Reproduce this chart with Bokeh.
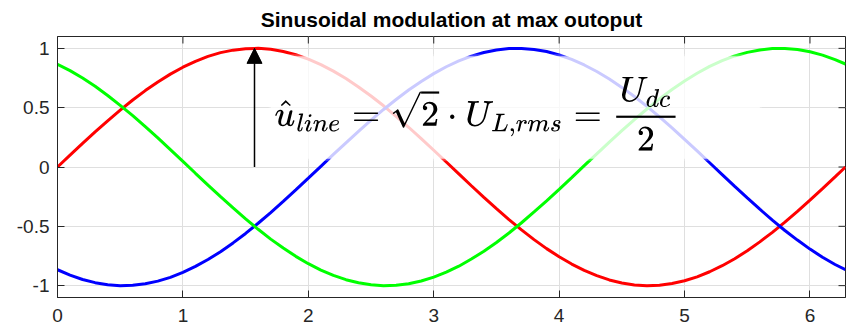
from bokeh.plotting import figure
from bokeh.models import (Range1d, FixedTicker, Label, Arrow,
                          NormalHead, TeX, ColumnDataSource)
from bokeh.embed import file_html
from bokeh.resources import INLINE

# angle (rad) and the three phase voltages, normalised to the peak
angle = [0.0, 0.1, 0.2, 0.3, 0.4, 0.5, 0.6, 0.7, 0.8, 0.9, 1.0, 1.1, 1.2,
         1.3, 1.4, 1.5, 1.6, 1.7, 1.8, 1.9, 2.0, 2.1, 2.2, 2.3, 2.4, 2.5,
         2.6, 2.7, 2.8, 2.9, 3.0, 3.1, 3.2, 3.3, 3.4, 3.5, 3.6, 3.7, 3.8,
         3.9, 4.0, 4.1, 4.2, 4.3, 4.4, 4.5, 4.6, 4.7, 4.8, 4.9, 5.0, 5.1,
         5.2, 5.3, 5.4, 5.5, 5.6, 5.7, 5.8, 5.9, 6.0, 6.1, 6.2, 6.283]
phase_u = [0.000, 0.100, 0.199, 0.296, 0.389, 0.479, 0.565, 0.644, 0.717,
           0.783, 0.841, 0.891, 0.932, 0.964, 0.985, 0.997, 1.000, 0.992,
           0.974, 0.946, 0.909, 0.863, 0.808, 0.746, 0.675, 0.598, 0.516,
           0.427, 0.335, 0.239, 0.141, 0.042, -0.058, -0.158, -0.256, -0.351,
           -0.443, -0.530, -0.612, -0.688, -0.757, -0.818, -0.872, -0.916,
           -0.952, -0.978, -0.994, -1.000, -0.996, -0.982, -0.959, -0.926,
           -0.883, -0.832, -0.773, -0.706, -0.631, -0.551, -0.465, -0.374,
           -0.279, -0.182, -0.083, 0.000]
phase_v = [-0.866, -0.912, -0.948, -0.975, -0.992, -1.000, -0.997, -0.984,
           -0.962, -0.930, -0.888, -0.838, -0.780, -0.714, -0.640, -0.560,
           -0.474, -0.384, -0.290, -0.193, -0.094, 0.006, 0.106, 0.204, 0.301,
           0.395, 0.485, 0.569, 0.649, 0.721, 0.787, 0.845, 0.894, 0.934,
           0.965, 0.986, 0.998, 0.999, 0.991, 0.973, 0.944, 0.907, 0.860,
           0.805, 0.742, 0.671, 0.594, 0.511, 0.422, 0.330, 0.233, 0.136,
           0.036, -0.064, -0.164, -0.261, -0.356, -0.448, -0.535, -0.616,
           -0.692, -0.761, -0.822, -0.865]
phase_w = [0.866, 0.812, 0.750, 0.680, 0.603, 0.520, 0.433, 0.340, 0.245,
           0.147, 0.048, -0.053, -0.152, -0.250, -0.345, -0.438, -0.525,
           -0.608, -0.683, -0.753, -0.815, -0.869, -0.914, -0.950, -0.976,
           -0.993, -1.000, -0.997, -0.984, -0.961, -0.928, -0.886, -0.836,
           -0.776, -0.710, -0.636, -0.556, -0.470, -0.379, -0.285, -0.188,
           -0.089, 0.011, 0.111, 0.210, 0.306, 0.400, 0.489, 0.574, 0.653,
           0.725, 0.790, 0.848, 0.896, 0.936, 0.966, 0.987, 0.998, 0.999,
           0.990, 0.971, 0.943, 0.905, 0.868]

x_ticks = [0, 1, 2, 3, 4, 5, 6]
y_ticks = [-1, -0.5, 0, 0.5, 1]
y_tick_labels = ["-1", "-0.5", "0", "0.5", "1"]

# peak of phase u, marked with an arrow
peak_angle = 1.5708
peak_value = 1.0

title_text = "Sinusoidal modulation at max outoput"
formula = r"\hat{u}_{line} = \sqrt{2}\cdot U_{L,rms} = \frac{U_{dc}}{2}"

FONT = "Liberation Sans"
AX_COLOR = "#262626"
GRID_COLOR = "#dfdfdf"

X_MIN, X_MAX = 0.0, 6.2832
Y_MIN, Y_MAX = -1.1, 1.1
FRAME_W, FRAME_H = 788, 261
TICK_PX = 7

p = figure(width=850, height=328, output_backend="svg", toolbar_location=None,
           x_range=Range1d(X_MIN, X_MAX), y_range=Range1d(Y_MIN, Y_MAX),
           min_border_left=57, min_border_right=5, min_border_top=36,
           min_border_bottom=31)

p.title.text = title_text
p.title.align = "center"
p.title.text_font = FONT
p.title.text_font_size = "21px"
p.title.text_font_style = "bold"
p.title.text_color = "#000000"
p.title.standoff = 11

p.background_fill_color = "white"
p.border_fill_color = "white"
p.outline_line_color = AX_COLOR
p.outline_line_width = 1

p.xgrid.ticker = FixedTicker(ticks=x_ticks)
p.ygrid.ticker = FixedTicker(ticks=y_ticks)
p.grid.grid_line_color = GRID_COLOR
p.grid.grid_line_width = 1

for ax in (p.xaxis[0], p.yaxis[0]):
    ax.axis_line_color = AX_COLOR
    ax.major_tick_line_color = AX_COLOR
    ax.major_tick_in = TICK_PX
    ax.major_tick_out = 0
    ax.minor_tick_line_color = None
    ax.major_label_text_font = FONT
    ax.major_label_text_color = AX_COLOR
    ax.major_label_text_font_size = "19px"

p.xaxis[0].ticker = FixedTicker(ticks=x_ticks)
p.xaxis[0].major_label_standoff = 11
p.yaxis[0].ticker = FixedTicker(ticks=y_ticks)
p.yaxis[0].major_label_overrides = {t: s for t, s in zip(y_ticks, y_tick_labels)}
p.yaxis[0].major_label_standoff = 8

# inward tick marks on the top and right edges of the box
dx = TICK_PX * (X_MAX - X_MIN) / FRAME_W
dy = TICK_PX * (Y_MAX - Y_MIN) / FRAME_H
p.segment(x0=x_ticks, y0=[Y_MAX] * len(x_ticks), x1=x_ticks,
          y1=[Y_MAX - dy] * len(x_ticks), line_color=AX_COLOR, line_width=1)
p.segment(x0=[X_MAX] * len(y_ticks), y0=y_ticks, x1=[X_MAX - dx] * len(y_ticks),
          y1=y_ticks, line_color=AX_COLOR, line_width=1)

src = ColumnDataSource(dict(x=angle, u=phase_u, v=phase_v, w=phase_w))
p.line("x", "u", source=src, line_color="#ff0000", line_width=3)
p.line("x", "v", source=src, line_color="#0000ff", line_width=3)
p.line("x", "w", source=src, line_color="#00ff00", line_width=3)

# translucent white panel behind the formula, with a slightly soft rim
px_x = (X_MAX - X_MIN) / FRAME_W
px_y = (Y_MAX - Y_MIN) / FRAME_H
bx0, bx1, by0, by1 = 1.70, 5.60, 0.07, 0.933
p.quad(left=[bx0 - 2 * px_x], right=[bx1 + 2 * px_x],
       bottom=[by0 - 2 * px_y], top=[by1 + 2 * px_y],
       fill_color="white", fill_alpha=0.25, line_color=None)
p.quad(left=[bx0], right=[bx1], bottom=[by0], top=[by1],
       fill_color="white", fill_alpha=0.72, line_color=None)

p.add_layout(Arrow(end=NormalHead(size=15, fill_color="black", line_color="black"),
                   x_start=peak_angle, y_start=0.0,
                   x_end=peak_angle, y_end=peak_value,
                   line_color="black", line_width=1.5))

p.add_layout(Label(x=1.73, y=0.45, text=TeX(text=formula),
                   text_font_size="29px", text_color="black",
                   text_align="left", text_baseline="middle"))

open("out.html", "w").write(file_html(p, INLINE))
